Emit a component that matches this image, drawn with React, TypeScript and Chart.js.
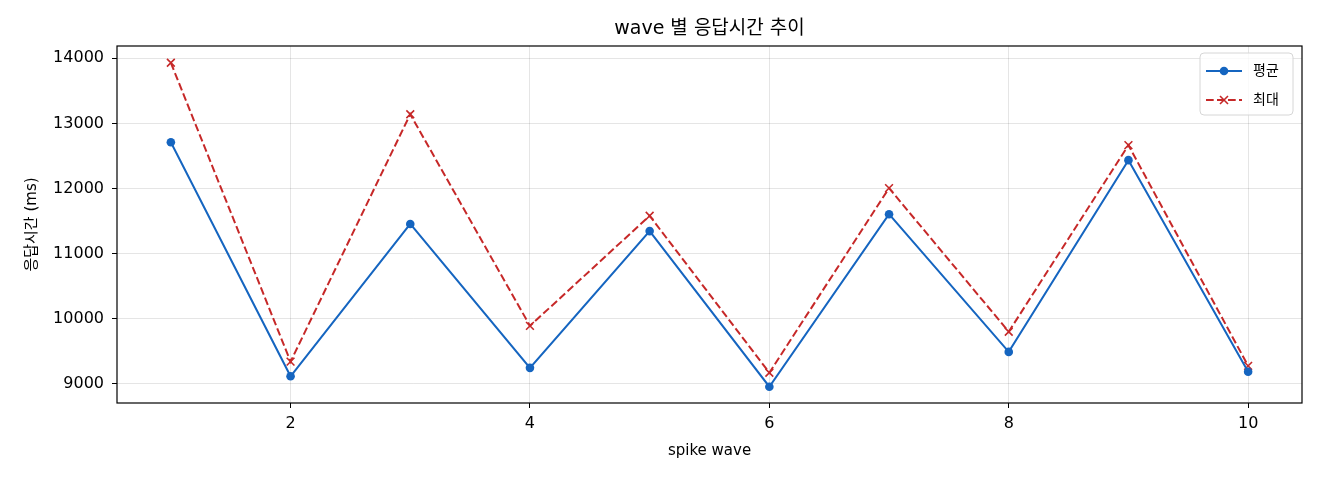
import Chart from "chart.js/auto";
import { useEffect, useRef } from "react";

const waves = [1, 2, 3, 4, 5, 6, 7, 8, 9, 10];
const avgMs = [12710, 9115, 11455, 9245, 11345, 8955, 11605, 9490, 12435, 9185];
const maxMs = [13930, 9340, 13140, 9890, 11580, 9170, 12005, 9800, 12665, 9275];
const xTicks = [2, 4, 6, 8, 10];
const yTicks = [9000, 10000, 11000, 12000, 13000, 14000];

const FONT = "'DejaVu Sans', 'Noto Sans CJK KR', sans-serif";
const BLUE = "#1565c0";
const RED = "#c62828";

// box around the plot, title, and matplotlib-like legend
const framePlugin = {
  id: "frame",
  afterDraw(chart: any) {
    const { ctx, chartArea: a } = chart;
    ctx.save();
    ctx.strokeStyle = "#000";
    ctx.lineWidth = 1.2;
    ctx.strokeRect(a.left, a.top, a.right - a.left, a.bottom - a.top);

    ctx.fillStyle = "#000";
    ctx.font = `19px ${FONT}`;
    ctx.textAlign = "center";
    ctx.textBaseline = "middle";
    ctx.fillText("wave 별 응답시간 추이", (a.left + a.right) / 2, 29);

    // legend
    const bx = a.right - 102;
    const by = a.top + 7;
    const bw = 93;
    const bh = 62;
    ctx.fillStyle = "rgba(255,255,255,0.8)";
    ctx.strokeStyle = "#d6d6d6";
    ctx.lineWidth = 1;
    ctx.beginPath();
    ctx.roundRect(bx, by, bw, bh, 4);
    ctx.fill();
    ctx.stroke();

    const items = [
      { label: "평균", color: BLUE, dash: [] as number[], marker: "o" },
      { label: "최대", color: RED, dash: [7.7, 3.3], marker: "x" },
    ];
    items.forEach((it, i) => {
      const y = by + 18 + i * 29;
      const x0 = bx + 6;
      const x1 = bx + 42;
      const mx = (x0 + x1) / 2;
      ctx.strokeStyle = it.color;
      ctx.lineWidth = 2;
      ctx.setLineDash(it.dash);
      ctx.beginPath();
      ctx.moveTo(x0, y);
      ctx.lineTo(x1, y);
      ctx.stroke();
      ctx.setLineDash([]);
      if (it.marker === "o") {
        ctx.fillStyle = it.color;
        ctx.beginPath();
        ctx.arc(mx, y, 4.3, 0, Math.PI * 2);
        ctx.fill();
      } else {
        ctx.lineWidth = 1.6;
        ctx.beginPath();
        ctx.moveTo(mx - 4, y - 4);
        ctx.lineTo(mx + 4, y + 4);
        ctx.moveTo(mx + 4, y - 4);
        ctx.lineTo(mx - 4, y + 4);
        ctx.stroke();
      }
      ctx.fillStyle = "#000";
      ctx.font = `14px ${FONT}`;
      ctx.textAlign = "left";
      ctx.fillText(it.label, bx + 53, y);
    });
    ctx.restore();
  },
};

export default function App() {
  const canvasRef = useRef<HTMLCanvasElement>(null);

  useEffect(() => {
    document.body.style.margin = "0";
    const ctx = canvasRef.current!.getContext("2d")!;

    const chart = new Chart(ctx, {
      type: "line",
      data: {
        datasets: [
          {
            label: "평균",
            data: waves.map((w, i) => ({ x: w, y: avgMs[i] })),
            borderColor: BLUE,
            backgroundColor: BLUE,
            borderWidth: 2,
            pointStyle: "circle",
            pointRadius: 4.3,
            pointBorderWidth: 0,
            tension: 0,
          },
          {
            label: "최대",
            data: waves.map((w, i) => ({ x: w, y: maxMs[i] })),
            borderColor: RED,
            backgroundColor: RED,
            borderWidth: 2,
            borderDash: [7.7, 3.3],
            pointStyle: "cross",
            pointRotation: 45,
            pointRadius: 5.5,
            pointBorderWidth: 1.6,
            tension: 0,
          },
        ],
      },
      options: {
        animation: false,
        responsive: false,
        devicePixelRatio: 1,
        layout: { padding: { top: 46, right: 18, left: 0, bottom: 0 } },
        plugins: {
          legend: { display: false },
          title: { display: false },
          tooltip: { enabled: false },
        },
        scales: {
          x: {
            type: "linear",
            min: 0.55,
            max: 10.45,
            afterBuildTicks: (s: any) => {
              s.ticks = xTicks.map((v) => ({ value: v }));
            },
            afterFit: (s: any) => {
              s.height = 77;
            },
            grid: {
              color: "rgba(0,0,0,0.1)",
              tickColor: "#000",
              tickLength: 5,
              drawTicks: true,
            },
            border: { display: false },
            ticks: {
              color: "#000",
              padding: 6,
              font: { family: FONT, size: 16 },
            },
            title: {
              display: true,
              text: "spike wave",
              color: "#000",
              padding: { top: 0, bottom: 20 },
              font: { family: FONT, size: 15 },
            },
          },
          y: {
            type: "linear",
            min: 8705,
            max: 14188,
            afterBuildTicks: (s: any) => {
              s.ticks = yTicks.map((v) => ({ value: v }));
            },
            afterFit: (s: any) => {
              s.width = 117;
            },
            grid: {
              color: "rgba(0,0,0,0.1)",
              tickColor: "#000",
              tickLength: 5,
              drawTicks: true,
            },
            border: { display: false },
            ticks: {
              color: "#000",
              padding: 8,
              font: { family: FONT, size: 16 },
              callback: (v: any) => String(v),
            },
            title: {
              display: true,
              text: "응답시간 (ms)",
              color: "#000",
              padding: { top: 23, bottom: 0 },
              font: { family: FONT, size: 15 },
            },
          },
        },
      },
      plugins: [framePlugin],
    });

    return () => chart.destroy();
  }, []);

  return (
    <div style={{ width: 1320, height: 480 }}>
      <canvas ref={canvasRef} width={1320} height={480}></canvas>
    </div>
  );
}
